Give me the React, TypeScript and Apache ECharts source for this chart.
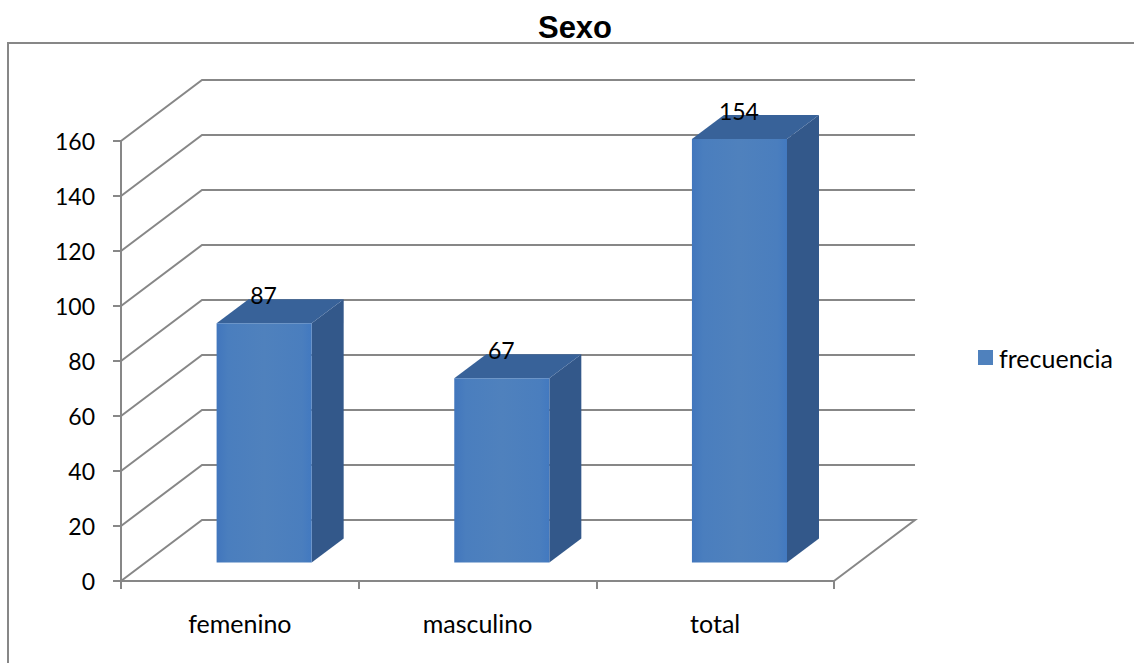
import React, { useEffect, useRef } from "react";
import * as echarts from "echarts";

const categories = ["femenino", "masculino", "total"];
const frecuencia = [87, 67, 154];
const yTicks = [0, 20, 40, 60, 80, 100, 120, 140, 160];

const WALL_DX = 81;
const WALL_DY = 61;
const BAR_DX = 24.3;
const BAR_DY = 18.5;
const DEPTH_DX = 32;
const DEPTH_DY = 24;
const LINE = "#878787";
const FONT = "Lato, Carlito, sans-serif";

export default function App() {
  const ref = useRef<HTMLDivElement>(null);
  useEffect(() => {
    const chart = echarts.init(ref.current!, undefined, { renderer: "svg" });
    const renderWall = (params: any, api: any) => {
      const cs = params.coordSys;
      const y = api.coord([0, api.value(1)])[1];
      const x0 = cs.x;
      const x1 = cs.x + cs.width;
      const points =
        api.value(1) === 0
          ? [
              [x0, y],
              [x0 + WALL_DX, y - WALL_DY],
              [x1 + WALL_DX, y - WALL_DY],
              [x1, y],
            ]
          : [
              [x0, y],
              [x0 + WALL_DX, y - WALL_DY],
              [x1 + WALL_DX, y - WALL_DY],
            ];
      return {
        type: "polyline",
        shape: { points },
        style: { stroke: LINE, lineWidth: 2, fill: "none" },
      };
    };
    const renderBar = (_params: any, api: any) => {
      const band = api.size([1, 0])[0];
      const w = band * 0.4;
      const top = api.coord([api.value(0), api.value(1)]);
      const base = api.coord([api.value(0), 0]);
      const l = top[0] + BAR_DX - w / 2;
      const r = l + w;
      const t = top[1] - BAR_DY;
      const b = base[1] - BAR_DY;
      const front = new echarts.graphic.LinearGradient(0, 0, 1, 0, [
        { offset: 0, color: "#4176bd" },
        { offset: 0.12, color: "#4a7ebe" },
        { offset: 0.5, color: "#4f81bd" },
        { offset: 0.9, color: "#4a7ebe" },
        { offset: 1, color: "#4279c0" },
      ]);
      return {
        type: "group",
        children: [
          {
            type: "polygon",
            shape: { points: [[r, t], [r + DEPTH_DX, t - DEPTH_DY], [r + DEPTH_DX, b - DEPTH_DY], [r, b]] },
            style: { fill: "#33588a" },
          },
          {
            type: "polygon",
            shape: { points: [[l, t], [l + DEPTH_DX, t - DEPTH_DY], [r + DEPTH_DX, t - DEPTH_DY], [r, t]] },
            style: { fill: "#386299" },
          },
          {
            type: "rect",
            shape: { x: l, y: t, width: w, height: b - t },
            style: { fill: front },
          },
          {
            type: "text",
            style: {
              x: (l + r) / 2 - 0.5,
              y: t - 28,
              text: String(api.value(1)),
              fill: "#000",
              font: `23px ${FONT}`,
              align: "center",
              verticalAlign: "middle",
            },
          },
        ],
      };
    };
    chart.setOption({
      animation: false,
      backgroundColor: "#fff",
      title: {
        text: "Sexo",
        left: 570,
        top: 7,
        textAlign: "center",
        textStyle: { fontFamily: "Liberation Sans", fontWeight: "bold", fontSize: 31, color: "#000" },
      },
      graphic: [
        {
          type: "polyline",
          silent: true,
          shape: { points: [[8, 663], [8, 43], [1134, 43]] },
          style: { stroke: LINE, lineWidth: 2, fill: "none" },
        },
      ],
      legend: {
        data: [{ name: "frecuencia", icon: "rect" }],
        left: 973,
        top: 340,
        itemWidth: 15,
        itemHeight: 15,
        itemGap: 0,
        textStyle: { fontFamily: FONT, fontSize: 25, color: "#000", padding: [0, 0, 3, 1] },
      },
      grid: { left: 121, top: 141, width: 713, height: 440 },
      xAxis: {
        type: "category",
        data: categories,
        axisLine: { lineStyle: { color: LINE, width: 2 } },
        axisTick: { show: true, length: 8, alignWithLabel: false, lineStyle: { color: LINE, width: 2 } },
        axisLabel: { color: "#000", fontFamily: FONT, fontSize: 25, margin: 29 },
      },
      yAxis: {
        type: "value",
        min: 0,
        max: 160,
        interval: 20,
        splitLine: { show: false },
        axisLine: { show: true, lineStyle: { color: LINE, width: 2 } },
        axisTick: { show: true, length: 8, lineStyle: { color: LINE, width: 2 } },
        axisLabel: { color: "#000", fontFamily: FONT, fontSize: 23, margin: 26 },
      },
      series: [
        {
          type: "custom",
          name: "muros",
          silent: true,
          clip: false,
          z: 1,
          encode: { x: 0, y: 1 },
          data: yTicks.map((v) => [0, v]),
          renderItem: renderWall,
        },
        {
          type: "custom",
          name: "frecuencia",
          clip: false,
          z: 3,
          itemStyle: { color: "#4f81bd" },
          encode: { x: 0, y: 1 },
          data: frecuencia.map((v, i) => [i, v]),
          renderItem: renderBar,
        },
      ],
    });
    return () => chart.dispose();
  }, []);
  return <div ref={ref} style={{ position: "absolute", left: 0, top: 0, width: 1134, height: 663 }} />;
}
